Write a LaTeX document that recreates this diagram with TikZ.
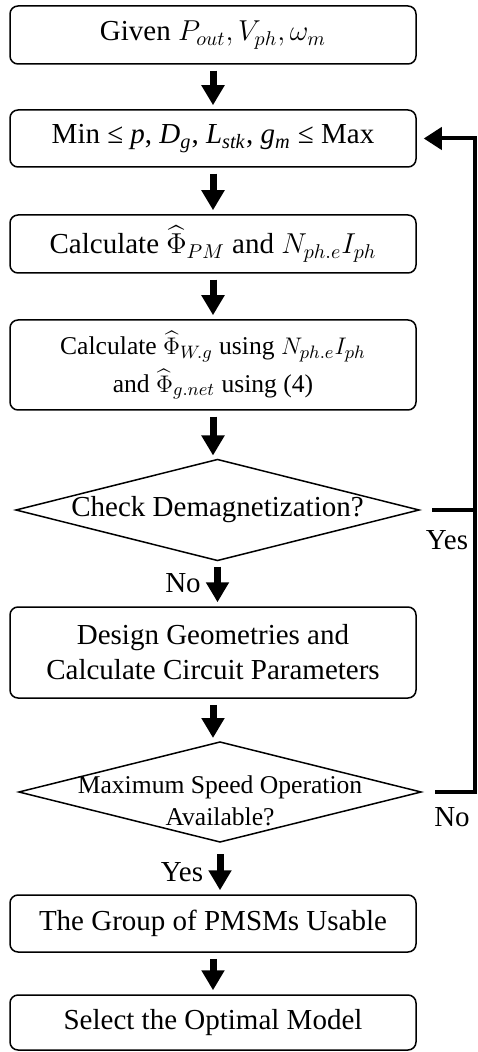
\documentclass[tikz,border=0pt]{standalone}
\usepackage{amsmath}
\usepackage{fontspec}
\setmainfont{Liberation Serif}
\usetikzlibrary{arrows.meta, shapes.geometric}

\tikzset{
  box/.style={draw, rounded corners=4pt, line width=0.75pt, minimum width=203pt,
    inner sep=2pt, align=center, font=\fontsize{14.5}{17.5}\selectfont},
  decision/.style={draw, diamond, line width=0.75pt, inner sep=0pt, outer sep=0pt,
    minimum width=201.5pt, minimum height=50.5pt},
  down/.style={line width=3.5pt, -{Triangle[width=11pt,length=10pt]},
    shorten <=3pt, shorten >=2pt},
  back/.style={line width=2pt},
  lbl/.style={font=\fontsize{14.5}{17.5}\selectfont},
  small/.style={font=\fontsize{12.8}{16}\selectfont, align=center}
}

\begin{document}
\begin{tikzpicture}[x=0.5pt, y=-0.5pt]
  \useasboundingbox (0,0) rectangle (477,1052);
  % main column
  \node[box, minimum height=29pt] (given) at (213,35) {Given $P_{out}, V_{ph}, \omega_m$};
  \node[box, minimum height=28.5pt] (range) at (213,138.5)
    {Min ≤ \textit{p}, \textit{D}\textsubscript{\textit{g}}, \textit{L}\textsubscript{\textit{stk}}, \textit{g}\textsubscript{\textit{m}} ≤ Max};
  \node[box, minimum height=29pt] (flux) at (213,244) {Calculate $\widehat{\Phi}_{PM}$ and $N_{ph.e}I_{ph}$};
  \node[box, small, font=\fontsize{12.8}{19}\selectfont, minimum height=45pt] (winding) at (213,365)
    {Calculate $\widehat{\Phi}_{W.g}$ using $N_{ph.e}I_{ph}$\\ and $\widehat{\Phi}_{g.net}$ using (4)};
  \node[decision] (dmag) at (217.5,510) {};
  \node[lbl] (dmagtext) at (dmag) {Check Demagnetization?};
  \node[box, minimum height=45.5pt] (design) at (213,652.5) {Design Geometries and\\Calculate Circuit Parameters};
  \node[decision, minimum width=201pt, minimum height=50pt] (speed) at (220,792) {};
  \node[small] (speedtext) at ([yshift=-4.5pt]speed) {Maximum Speed Operation\\Available?};
  \node[box, minimum height=28.5pt] (group) at (213,923.5) {The Group of PMSMs Usable};
  \node[box, minimum height=27.5pt] (select) at (213,1022.5) {Select the Optimal Model};

  % arrows down
  \foreach \a/\b in {given/range, range/flux, flux/winding, winding/dmag,
                     dmag/design, design/speed, group/select}
    \draw[down] (\a.south) -- (\a.south |- \b.north);
  \draw[down, shorten <=6pt] (speed.south) -- (speed.south |- group.north);

  % loop back
  \coordinate (rail) at (475,0);
  \draw[back, -{Triangle[width=11pt,length=9pt]}, shorten >=3.5pt]
    ([xshift=6.5pt]dmag.east) -- (dmag.east -| rail) |- (range.east);
  \draw[back] ([xshift=7pt]speed.east) -| (rail |- dmag.east);

  % branch labels
  \node[lbl] (yes1) at (447,540) {Yes};
  \node[lbl] (no1) at (183,583) {No};
  \node[lbl] (no2) at (452,817) {No};
  \node[lbl] (yes2) at (182,872) {Yes};
\end{tikzpicture}
\end{document}
